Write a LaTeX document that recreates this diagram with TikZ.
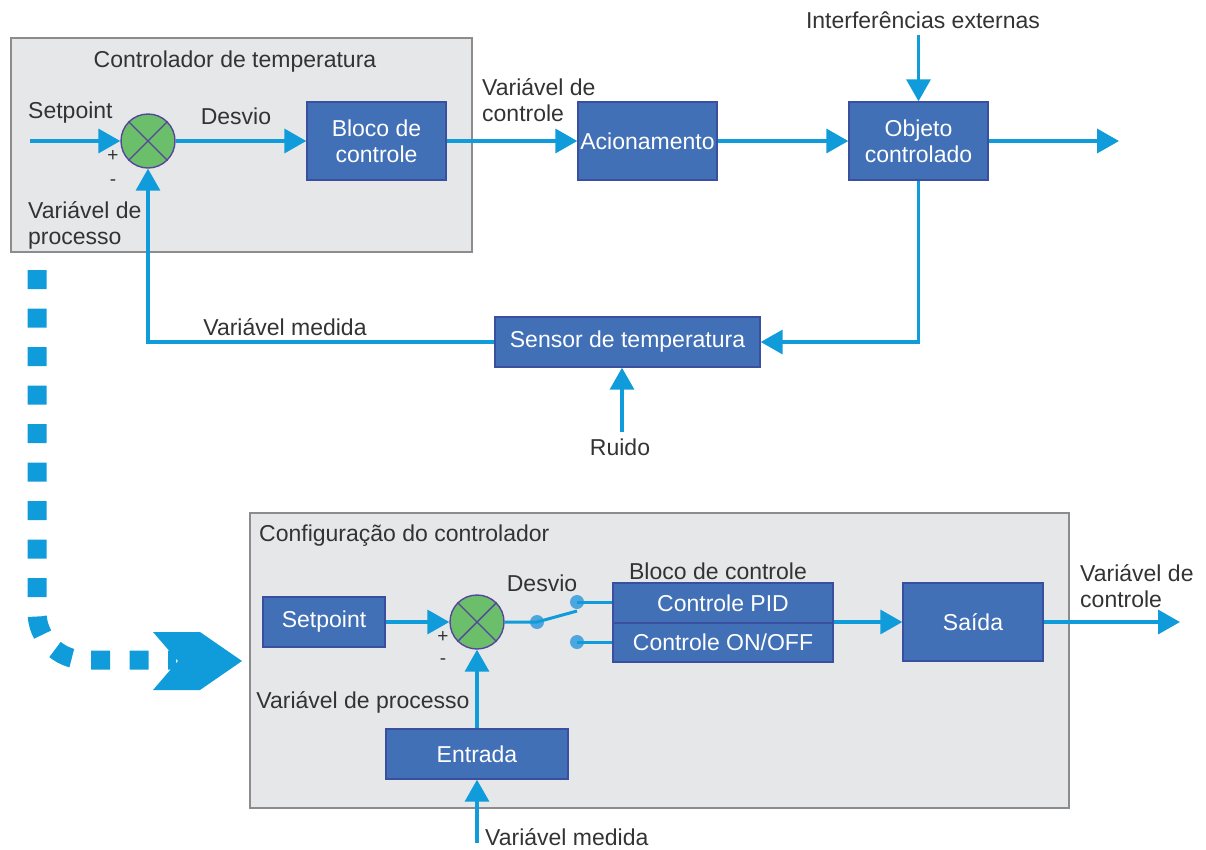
\documentclass[tikz,border=0pt]{standalone}
\usepackage{fontspec}
\setmainfont{Liberation Sans}
\usetikzlibrary{arrows.meta}

\definecolor{flow}{HTML}{109CDB}
\definecolor{blk}{HTML}{4170B7}
\definecolor{blkline}{HTML}{3A4FA0}
\definecolor{panel}{HTML}{E6E7E8}
\definecolor{panelline}{HTML}{8C8C8C}
\definecolor{sumfill}{HTML}{6BBF6B}
\definecolor{sumline}{HTML}{55469A}
\definecolor{txt}{HTML}{333333}
\definecolor{knob}{HTML}{4DA6DE}

\tikzset{
  every node/.style={font=\fontsize{23}{26}\selectfont, text=txt, inner sep=0pt},
  panelbox/.style={draw=panelline, fill=panel, line width=1.6pt},
  block/.style={draw=blkline, fill=blk, line width=1.4pt, text=white, align=center,
                minimum width=#1},
  block/.default=139pt,
  sumjn/.style={circle, draw=sumline, fill=sumfill, line width=1.4pt, minimum size=54pt},
  flowline/.style={draw=flow, line width=3.5pt},
  flowarrow/.style={flowline, -{Triangle[length=22pt,width=24pt]}},
  swline/.style={draw=flow, line width=3pt},
  knobdot/.style={circle, fill=knob, minimum size=14pt},
  sign/.style={font=\fontsize{19}{20}\selectfont},
  lbl/.style={align=left, anchor=west},
}

\begin{document}
\begin{tikzpicture}[x=1pt, y=-1pt]
\useasboundingbox (0,0) rectangle (1206,849);

% ---------- temperature control loop ----------
\draw[panelbox] (11,38) rectangle (472,252);
\node at (235,62) {Controlador de temperatura};

\node[sumjn] (s1) at (148,141) {};
\draw[sumline, line width=1.4pt] (s1.north west) -- (s1.south east) (s1.north east) -- (s1.south west);

\node[block, minimum height=78pt] (ctrl) at (376.5,141) {Bloco de\\controle};
\node[block, minimum height=78pt] (act)  at (647.5,141) {Acionamento};
\node[block, minimum height=78pt] (obj)  at (918.5,141) {Objeto\\controlado};
\node[block=265pt, minimum height=50pt] (sens) at (627.5,342) {Sensor de temperatura};

\coordinate (spin) at (30,141);
\coordinate (out1) at (1119,141);
\coordinate (dist) at (918.5,35);
\coordinate (noise) at (622,432);

\draw[flowarrow] (spin) -- (s1.west);
\draw[flowarrow] (s1.east) -- (ctrl.west);
\draw[flowarrow] (ctrl.east) -- (act.west);
\draw[flowarrow] (act.east) -- (obj.west);
\draw[flowarrow] (obj.east) -- (out1);
\draw[flowarrow] (dist) -- (obj.north);
\draw[flowarrow] (obj.south) |- (sens.east);
\draw[flowarrow] (sens.west) -| (s1.south);
\draw[flowarrow] (noise) -- (sens.south -| noise);

\node[anchor=west] at (28,113) {Setpoint};
\node at (236,116) {Desvio};
\node[sign] at (113,156) {+};
\node[sign] at (113,183) {-};
\node[lbl] at (28,225) {Variável de\\processo};
\node[lbl] at (482,100) {Variável de\\controle};
\node at (923,20) {Interferências externas};
\node at (285,327) {Variável medida};
\node at (620,447) {Ruido};

% ---------- link to the configuration view ----------
\draw[flow, line width=19pt, dash pattern=on 19pt off 19.5pt, rounded corners=48pt]
  (37,270) -- (37,660) -- (176,660);
\fill[flow] (153,632) -- (200,632) -- (242,661) -- (200,690) -- (153,690) -- (178,661) -- cycle;

% ---------- controller configuration ----------
\draw[panelbox] (250,513) rectangle (1069,808);
\node[anchor=west] at (259,536) {Configuração do controlador};

\node[block=122pt, minimum height=50pt] (sp) at (324,622) {Setpoint};
\node[sumjn] (s2) at (477,622) {};
\draw[sumline, line width=1.4pt] (s2.north west) -- (s2.south east) (s2.north east) -- (s2.south west);
\node[block=182pt, minimum height=50pt] (inp) at (477,754) {Entrada};
\node[block=220pt, minimum height=40pt] (pid) at (723,603) {Controle PID};
\node[block=220pt, minimum height=39pt] (onoff) at (723,642.5) {Controle ON/OFF};
\node[block=140pt, minimum height=78pt] (outb) at (973,622) {Saída};

\coordinate (meas) at (477,843);
\coordinate (out2) at (1180,622);

\draw[flowarrow] (sp.east) -- (s2.west);
\draw[flowarrow] (inp.north) -- (s2.south);
\draw[flowarrow] (meas) -- (inp.south);
\draw[flowarrow] (pid.east |- outb.west) -- (outb.west);
\draw[flowarrow] (outb.east) -- (out2);

% selector switch
\node[knobdot] (k0) at (537,622) {};
\node[knobdot] (k1) at (577,602) {};
\node[knobdot] (k2) at (577,642) {};
\draw[swline] (s2.east) -- (k0.center) -- (577,611);
\draw[swline] (k1.center) -- (k1 -| pid.west);
\draw[swline] (k2.center) -- (k2 -| onoff.west);

\node at (542,583) {Desvio};
\node at (718,571) {Bloco de controle};
\node[sign] at (443,637) {+};
\node[sign] at (443,662) {-};
\node at (363,702) {Variável de processo};
\node[anchor=west] at (485,837) {Variável medida};
\node[lbl] at (1080,586) {Variável de\\controle};
\end{tikzpicture}
\end{document}
